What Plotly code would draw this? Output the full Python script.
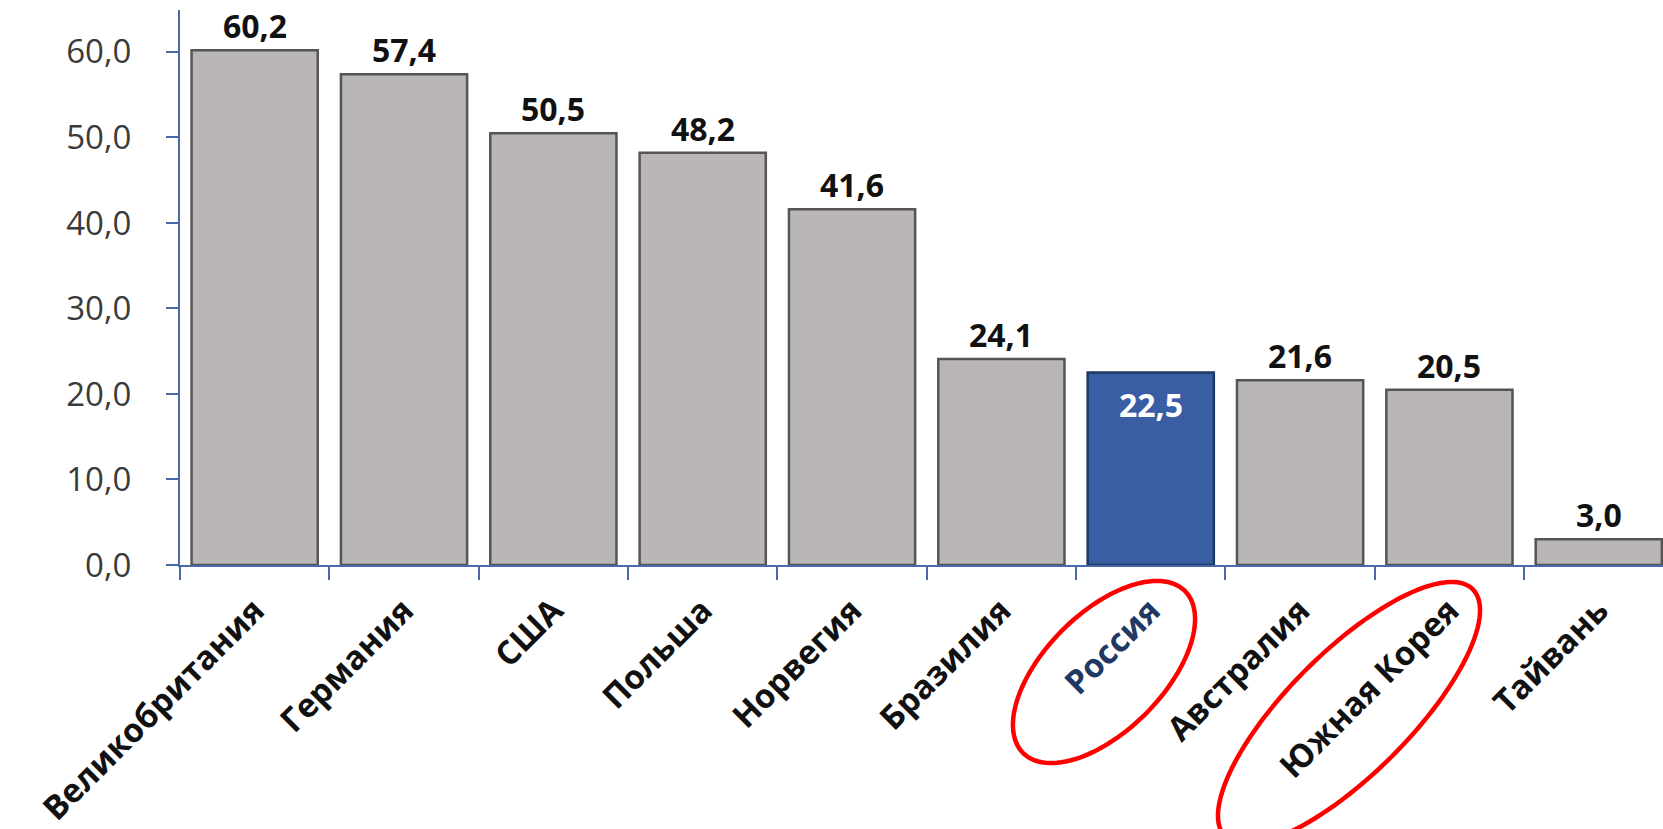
import numpy as np
import plotly.graph_objects as go

# ---- data ----
countries = ["Великобритания", "Германия", "США", "Польша", "Норвегия",
             "Бразилия", "Россия", "Австралия", "Южная Корея", "Тайвань"]
values = [60.2, 57.4, 50.5, 48.2, 41.6, 24.1, 22.5, 21.6, 20.5, 3.0]
highlight = "Россия"
y_tick_vals = [0, 10, 20, 30, 40, 50, 60]

# ---- layout constants ----
W, H = 1663, 829
ML, MR, MT, MB = 180, 0, 10, 264
PW, PH = W - ML - MR, H - MT - MB
Y_MAX = 64.9
X_RANGE = [-0.5, 9.43]

GRAY = "#bab6b6"
BLUE = "#3a5ea3"
EDGE = "#555555"
AXIS = "#4a69a6"
FONT = "Open Sans"

bar_colors = [BLUE if c == highlight else GRAY for c in countries]
edge_colors = ["#1f3864" if c == highlight else EDGE for c in countries]

fig = go.Figure()
fig.add_bar(
    x=countries, y=values,
    marker=dict(color=bar_colors, line=dict(color=edge_colors, width=2.5)),
    width=0.845, hoverinfo="skip",
)

# value labels
annotations = []
for c, v in zip(countries, values):
    label = f"<b>{v:.1f}</b>".replace(".", ",")
    if c == highlight:
        annotations.append(dict(x=c, y=v, xref="x", yref="y", text=label,
                                showarrow=False, yanchor="top", yshift=-8,
                                font=dict(family=FONT, size=32, color="white")))
    else:
        annotations.append(dict(x=c, y=v, xref="x", yref="y", text=label,
                                showarrow=False, yanchor="bottom", yshift=1,
                                font=dict(family=FONT, size=32, color="#111111")))

# tick labels (Russia in dark blue)
tick_text = [f"<span style='color:#1f3864'>{c}</span>" if c == highlight else c for c in countries]


def ellipse_path(cx, cy, a, b, theta_deg, n=120):
    th = np.radians(theta_deg)
    t = np.linspace(0, 2 * np.pi, n)
    xs = cx + a * np.cos(t) * np.cos(th) - b * np.sin(t) * np.sin(th)
    ys = cy - (a * np.cos(t) * np.sin(th) + b * np.sin(t) * np.cos(th))
    xp = (xs - ML) / PW
    yp = (H - MB - ys) / PH
    pts = [f"{x:.5f},{y:.5f}" for x, y in zip(xp, yp)]
    return "M " + " L ".join(pts) + " Z"


shapes = [
    dict(type="path", xref="paper", yref="paper", path=ellipse_path(1104, 672, 114.5, 59, 45),
         line=dict(color="#ff0000", width=4.5)),
    dict(type="path", xref="paper", yref="paper", path=ellipse_path(1349, 713, 175, 61, 45),
         line=dict(color="#ff0000", width=4.5)),
]

fig.update_layout(
    width=W, height=H,
    margin=dict(l=ML, r=MR, t=MT, b=MB, pad=0, autoexpand=False),
    paper_bgcolor="white", plot_bgcolor="white",
    separators=", ",
    showlegend=False,
    annotations=annotations,
    shapes=shapes,
    xaxis=dict(
        type="category", range=X_RANGE, automargin=False,
        tickvals=countries, ticktext=tick_text,
        tickangle=-45, tickson="boundaries",
        ticks="outside", ticklen=13, tickwidth=2, tickcolor=AXIS,
        showline=True, linecolor=AXIS, linewidth=2,
        showgrid=False, zeroline=False,
        tickfont=dict(family=FONT, size=33, color="#111111", weight="bold"),
        ticklabelstandoff=11,
    ),
    yaxis=dict(
        range=[0, Y_MAX], tickvals=y_tick_vals, tickformat=".1f", automargin=False,
        ticks="outside", ticklen=12, tickwidth=2, tickcolor=AXIS,
        showline=True, linecolor=AXIS, linewidth=2,
        showgrid=False, zeroline=False,
        tickfont=dict(family=FONT, size=33, color="#3a3a3a"),
        ticklabelstandoff=28,
    ),
)

fig.write_html("out.html", config={"displayModeBar": False})

# remove default page margin so the figure sits at the window origin
with open("out.html", "r", encoding="utf-8") as f:
    html = f.read()
html = html.replace("<head>", "<head><style>html,body{margin:0;padding:0;overflow:hidden;}</style>", 1)
with open("out.html", "w", encoding="utf-8") as f:
    f.write(html)
